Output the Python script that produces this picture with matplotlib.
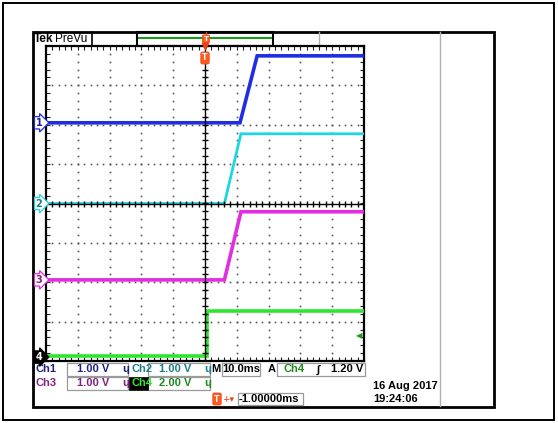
import numpy as np
import matplotlib
matplotlib.use("Agg")
import matplotlib.pyplot as plt
from matplotlib import font_manager
from matplotlib.patches import Rectangle

# ---- values ----
CH = ["Ch1", "Ch2", "Ch3", "Ch4"]
V_PER_DIV = [1.00, 1.00, 1.00, 2.00]
POS_DIV = [2.05, 0.00, -1.94, -3.90]          # ground marker, divisions from centre
TRACE_COL = ["#1f2ee0", "#1ed6e0", "#e22ee0", "#2ee62e"]
TEXT_COL = ["#1e2088", "#1b7f86", "#86207f", "#1e8a1e"]

# traces: time (ms, relative to screen centre) and volts
t_ch1 = [-50.0, 11.0, 16.4, 50.0]
v_ch1 = [0.0, 0.0, 1.70, 1.70]
t_ch2 = [-50.0, 6.1, 11.3, 50.0]
v_ch2 = [0.0, 0.0, 1.77, 1.77]
t_ch3 = [-50.0, 6.1, 11.3, 50.0]
v_ch3 = [0.0, 0.0, 1.73, 1.73]
t_ch4 = [-50.0, 0.7, 0.7, 50.0]
v_ch4 = [0.05, 0.05, 2.32, 2.32]
TRACES = [(t_ch1, v_ch1), (t_ch2, v_ch2), (t_ch3, v_ch3), (t_ch4, v_ch4)]

MS_PER_DIV = 10.0
TRIG_SRC, TRIG_LEVEL = "Ch4", 1.20
H_POS_MS = -1.0
DATE, CLOCK = "16 Aug 2017", "19:24:06"

W, H = 558, 423
names = {f.name for f in font_manager.fontManager.ttflist}
NARROW = "Liberation Sans Narrow" in names
FAM = ["Liberation Sans Narrow" if NARROW else "Liberation Sans", "DejaVu Sans"]
FS = 9.6 if NARROW else 8.0

fig = plt.figure(figsize=(W / 100, H / 100), dpi=100)
fig.patch.set_facecolor("white")
bg = fig.add_axes([0, 0, 1, 1])
bg.set_xlim(0, W)
bg.set_ylim(H, 0)
bg.axis("off")

# outer page frame and screenshot frame
bg.add_patch(Rectangle((3, 3), 551, 417, fc="none", ec="black", lw=1.4))
bg.add_patch(Rectangle((33, 32), 461, 375, fc="none", ec="black", lw=2.0))
bg.plot([440, 440], [32, 406], color="#b0b0b0", lw=1.0)
bg.plot([319, 319], [32, 46], color="#b0b0b0", lw=1.0)

# header
bg.text(34, 39, "Tek", fontsize=FS + 0.5, fontweight="bold", family=FAM, va="center", ha="left")
bg.text(55, 39, "PreVu", fontsize=FS + 0.5, family=FAM, va="center", ha="left")
bg.plot([92, 92], [32, 46], color="black", lw=1.2)
bg.add_patch(Rectangle((137, 32), 136, 14, fc="none", ec="black", lw=1.5))
bg.plot([139, 271], [38, 38], color="#1a9a1a", lw=1.5)
bg.plot([206, 206], [32, 46], color="#e8401a", lw=1.0)
bg.text(206, 39, "T", fontsize=5, color="white", fontweight="bold", ha="center", va="center",
        bbox=dict(boxstyle="round,pad=0.15", fc="#ff5a1e", ec="#e8401a", lw=0.5))

# ---- graticule ----
ax = fig.add_axes([46 / W, 1 - 361 / H, 318 / W, 315 / H])
ax.set_xlim(-5 * MS_PER_DIV, 5 * MS_PER_DIV)
ax.set_ylim(-4, 4)
for sp in ax.spines.values():
    sp.set_linewidth(1.6)
minor_x = np.arange(-5 * MS_PER_DIV, 5 * MS_PER_DIV + 0.01, MS_PER_DIV / 5)
minor_y = np.arange(-4, 4.01, 0.2)
ax.set_xticks(minor_x)
ax.set_yticks(minor_y)
ax.tick_params(direction="in", length=3, width=0.8, top=True, right=True,
               labelbottom=False, labelleft=False, colors="#222222")
for gx in np.arange(-4, 5) * MS_PER_DIV:
    if gx != 0:
        ax.plot(np.full_like(minor_y, gx), minor_y, ls="", marker="s", ms=1.2, mew=0, color="#555555")
for gy in range(-3, 4):
    if gy != 0:
        ax.plot(minor_x, np.full_like(minor_x, gy), ls="", marker="s", ms=1.2, mew=0, color="#555555")

for i, (t, v) in enumerate(TRACES):
    y = POS_DIV[i] + np.array(v) / V_PER_DIV[i]
    ax.plot(t, y, color=TRACE_COL[i], lw=2.0 if i == 1 else 2.6, solid_joinstyle="miter", zorder=3)

ax.axvline(0, color="black", lw=1.0, zorder=4)
ax.axhline(0, color="black", lw=1.0, zorder=4)
ax.plot(np.zeros_like(minor_y), minor_y, ls="", marker="_", ms=5, mew=1.0, color="black", zorder=4)
ax.plot(minor_x, np.zeros_like(minor_x), ls="", marker="|", ms=5, mew=1.0, color="black", zorder=4)

# channel ground markers
for i, p in enumerate(POS_DIV):
    last = i == 3
    ax.annotate(str(i + 1), xy=(0, p), xycoords=("axes fraction", "data"), xytext=(-7, 0),
                textcoords="offset pixels", ha="center", va="center", fontsize=7,
                color="white" if last else TEXT_COL[i], fontweight="bold", annotation_clip=False,
                bbox=dict(boxstyle="rarrow,pad=0.12", fc="black" if last else "white",
                          ec="black" if last else TRACE_COL[i], lw=0.9), zorder=5)

# trigger position and level
ax.annotate("T", xy=(0, 1), xycoords=("data", "axes fraction"), xytext=(0, -12),
            textcoords="offset pixels", ha="center", va="center", fontsize=5.5, color="white",
            fontweight="bold", bbox=dict(boxstyle="round,pad=0.2", fc="#ff5a1e", ec="#e8401a", lw=0.5),
            zorder=6)
ax.plot([0], [4], marker="v", ms=4, color="#e8401a", clip_on=False, zorder=6)
k = CH.index(TRIG_SRC)
ax.annotate("◀", xy=(1, POS_DIV[k] + TRIG_LEVEL / V_PER_DIV[k]), xycoords=("axes fraction", "data"),
            xytext=(-5, -2), textcoords="offset pixels", ha="center", va="center", fontsize=6,
            color="#1e9a1e", family="DejaVu Sans")

# ---- readouts ----
def box(x0, x1, y0, y1):
    bg.add_patch(Rectangle((x0, y0), x1 - x0, y1 - y0, fc="white", ec="#9a9a9a", lw=0.9))

rows = [369.5, 383.5]
kw = dict(fontsize=FS, fontweight="bold", family=FAM, va="center")
for i in range(4):
    r, c = divmod(i, 2)
    y = rows[r]
    lx, bx0, bx1 = (36, 67, 128) if c == 0 else (131, 148, 210)
    box(bx0, bx1, y - 6.5, y + 6.5)
    if i == 3:
        bg.add_patch(Rectangle((129, y - 6.5), 19, 13, fc="black", ec="black", lw=0.5))
        bg.text(lx, y, CH[i], color="#3ee63e", ha="left", **kw)
    else:
        bg.text(lx, y, CH[i], color=TEXT_COL[i], ha="left", **kw)
    bg.text(bx1 - 19, y, f"{V_PER_DIV[i]:.2f} V", color=TEXT_COL[i], ha="right", **kw)
    bg.text(bx1 - 2.5, y, "ɥ", color=TEXT_COL[i], ha="center", **kw)

bg.text(211.5, rows[0], "M", color="black", ha="left", **kw)
box(222, 260, rows[0] - 6.5, rows[0] + 6.5)
bg.text(241, rows[0], f"{MS_PER_DIV:.1f}ms", color="black", ha="center", **kw)
bg.text(268, rows[0], "A", color="black", ha="left", **kw)
box(277, 365, rows[0] - 6.5, rows[0] + 6.5)
bg.text(283, rows[0], TRIG_SRC, color=TEXT_COL[k], ha="left", **kw)
bg.text(318, rows[0], "∫", color="black", ha="center", **kw)
bg.text(363, rows[0], f"{TRIG_LEVEL:.2f} V", color="black", ha="right", **kw)

y3 = 399
bg.text(217, y3, "T", fontsize=5.5, color="white", fontweight="bold", ha="center", va="center",
        bbox=dict(boxstyle="round,pad=0.2", fc="#ff5a1e", ec="#e8401a", lw=0.5))
bg.text(222, y3, "+▾", fontsize=6.5, color="#e8401a", ha="left", va="center", family="DejaVu Sans")
box(238, 303, y3 - 6, y3 + 6)
bg.text(239, y3, f"{H_POS_MS:.5f}ms", color="black", ha="left", **kw)

bg.text(373, 386, DATE, color="black", ha="left", **kw)
bg.text(373, 399.5, CLOCK, color="black", ha="left", **kw)

fig.savefig("out.png", dpi=100)
